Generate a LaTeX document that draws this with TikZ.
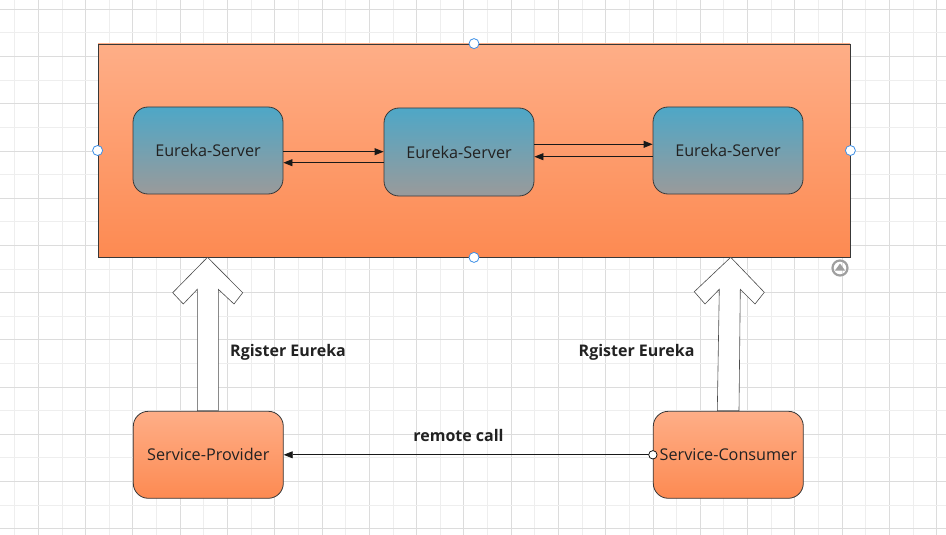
\documentclass[tikz,border=0pt]{standalone}
\usepackage{fontspec}
\setmainfont{Open Sans}
\usetikzlibrary{arrows.meta,calc}
\definecolor{gridA}{HTML}{DCDCDC}
\definecolor{gridB}{HTML}{EEEEEE}
\definecolor{orTop}{HTML}{FEAE87}
\definecolor{orBot}{HTML}{FD8A52}
\definecolor{blTop}{HTML}{4EA7C7}
\definecolor{blBot}{HTML}{9A9A9A}
\definecolor{edge}{HTML}{383838}
\definecolor{handle}{HTML}{3D8FE6}
\definecolor{txt}{HTML}{222222}
\tikzset{
  server/.style={rectangle, rounded corners=15pt, minimum width=150pt, minimum height=87pt,
    draw=edge, line width=0.8pt, top color=blTop, bottom color=blBot, text=txt,
    font=\fontsize{16.2}{19}\selectfont, inner sep=0pt},
  svc/.style={rectangle, rounded corners=15pt, minimum width=150pt, minimum height=87pt,
    draw=edge, line width=0.8pt, top color=orTop, bottom color=orBot, text=txt,
    font=\fontsize{16.2}{19}\selectfont, inner sep=0pt},
  conn/.style={draw=black!90, line width=0.8pt, -{Triangle[length=9pt,width=7pt]}},
  hollow/.style={draw=black!70, line width=0.6pt, fill=white},
  hdl/.style={draw=handle, fill=white, line width=0.8pt},
  lbl/.style={font=\bfseries\fontsize{16}{19}\selectfont, text=txt, inner sep=0pt}
}
\begin{document}
\begin{tikzpicture}[x=1pt,y=-1pt]
\useasboundingbox (0,0) rectangle (946,535);
\fill[white] (0,0) rectangle (946,535);
% grid
\foreach \k in {-1,...,38}{
  \pgfmathsetmacro{\xx}{38.3+\k*23.64}
  \pgfmathtruncatemacro{\ev}{mod(\k+2,2)}
  \ifnum\ev=0 \draw[gridA,line width=0.8pt] (\xx,0) -- (\xx,535);
  \else \draw[gridB,line width=0.8pt] (\xx,0) -- (\xx,535); \fi
}
\foreach \k in {0,...,22}{
  \pgfmathsetmacro{\yy}{9.3+\k*23.6}
  \pgfmathtruncatemacro{\ev}{mod(\k,2)}
  \ifnum\ev=0 \draw[gridA,line width=0.8pt] (0,\yy) -- (946,\yy);
  \else \draw[gridB,line width=0.8pt] (0,\yy) -- (946,\yy); \fi
}
% container
\node[rectangle, minimum width=752pt, minimum height=213pt, draw=edge, line width=0.8pt,
  top color=orTop, bottom color=orBot, inner sep=0pt] (box) at (474,150.5) {};
% servers
\node[server] (es1) at (208,150.5) {Eureka-Server};
\node[server, minimum height=88pt] (es2) at (459,152) {Eureka-Server};
\node[server] (es3) at (728,150.5) {Eureka-Server};
\draw[conn] (es1.east |- 0,151.7) -- (es2.west |- 0,151.7);
\draw[conn] (es2.west |- 0,162.7) -- (es1.east |- 0,162.7);
\draw[conn] (es2.east |- 0,144.3) -- (es3.west |- 0,144.3);
\draw[conn] (es3.west |- 0,156.7) -- (es2.east |- 0,156.7);
% handles
\draw[hdl] (box.north) circle (5);
\draw[hdl] (box.south) circle (5);
\draw[hdl] (box.west) circle (5);
\draw[hdl] (box.east) circle (5);
\coordinate (ic) at (840,268);
\draw[gray!75, line width=2.2pt] (ic) circle (7.5);
\fill[gray!75] ($(ic)+(0,-4.5)$) -- ($(ic)+(5,2.5)$) -- ($(ic)+(-5,2.5)$) -- cycle;
% services
\node[svc] (sp) at (208.3,454.8) {Service-Provider};
\node[svc] (sc) at (728.3,454.8) {Service-Consumer};
% hollow arrows
\draw[hollow] (207.5,257.3) -- (242.7,292.7) -- (234,304) -- (218.3,289.3) -- (218.3,410.7)
  -- (197.3,410.7) -- (197.3,289.3) -- (183.3,304) -- (172.7,292.7) -- cycle;
\draw[hollow] (730.7,257.3) -- (764.3,292.3) -- (755,304) -- (740.3,289.3) -- (739,410.7)
  -- (717.3,410.7) -- (719.3,289.3) -- (705,304) -- (694.3,291.7) -- cycle;
\node[lbl, anchor=west] (l1) at (230,352) {Rgister Eureka};
\node[lbl, anchor=west] (l2) at (578.5,352) {Rgister Eureka};
% remote call
\draw[conn] (sc.west) -- (sp.east);
\draw[draw=black, fill=white, line width=0.7pt] (sc.west) circle (4.2);
\node[lbl] (rc) at (458.5,435) {remote call};
\end{tikzpicture}
\end{document}
